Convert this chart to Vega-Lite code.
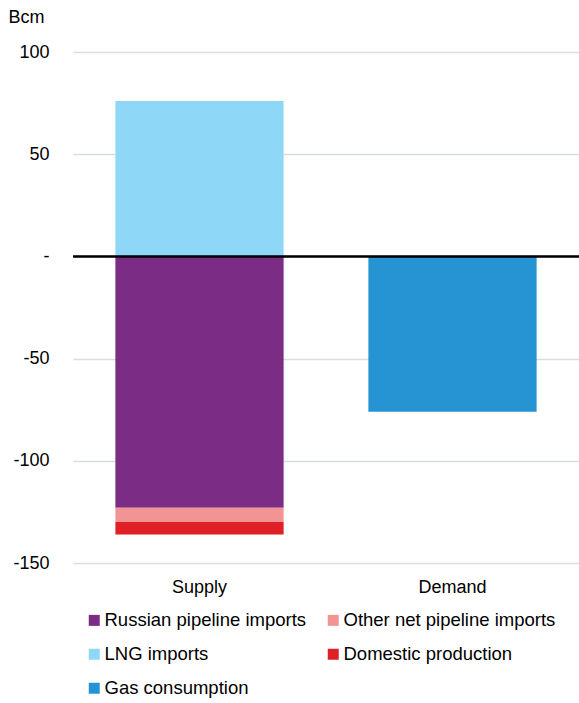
{
  "$schema": "https://vega.github.io/schema/vega-lite/v6.json",
  "autosize": {"type": "none"},
  "width": 506,
  "height": 511,
  "padding": {"left": 73, "top": 52, "right": 0, "bottom": 140},
  "background": "white",
  "config": {
    "view": {"stroke": null},
    "font": "Liberation Sans",
    "axis": {"labelFont": "Liberation Sans", "titleFont": "Liberation Sans"},
    "legend": {"labelFont": "Liberation Sans"}
  },
  "data": {
    "values": [
      {"side": "Supply", "category": "LNG imports", "value": 76, "ord": 1},
      {"side": "Supply", "category": "Russian pipeline imports", "value": -123, "ord": 2},
      {"side": "Supply", "category": "Other net pipeline imports", "value": -7, "ord": 3},
      {"side": "Supply", "category": "Domestic production", "value": -6, "ord": 4},
      {"side": "Demand", "category": "Gas consumption", "value": -76, "ord": 5}
    ]
  },
  "layer": [
    {
      "mark": {"type": "bar"},
      "encoding": {
        "x": {
          "field": "side",
          "type": "nominal",
          "sort": ["Supply", "Demand"],
          "scale": {"paddingInner": 0.335, "paddingOuter": 0.1675},
          "axis": {
            "title": null,
            "labelAngle": 0,
            "labelFontSize": 18,
            "labelColor": "#000000",
            "labelPadding": 15,
            "ticks": false,
            "domain": false
          }
        },
        "y": {
          "field": "value",
          "type": "quantitative",
          "stack": "zero",
          "scale": {"domain": [-150, 100], "nice": false},
          "axis": {
            "values": [-150, -100, -50, 0, 50, 100],
            "labelExpr": "datum.value == 0 ? '-' : toString(datum.value)",
            "labelFontSize": 18,
            "labelColor": "#000000",
            "labelPadding": 24,
            "ticks": false,
            "domain": false,
            "gridColor": "#d9dde2",
            "gridWidth": 1.5,
            "title": "Bcm",
            "titleAngle": 0,
            "titleAlign": "left",
            "titleBaseline": "alphabetic",
            "titleX": -65,
            "titleY": -30,
            "titleFontSize": 18,
            "titleFontWeight": "normal",
            "titleColor": "#000000"
          }
        },
        "color": {
          "field": "category",
          "type": "nominal",
          "scale": {
            "domain": ["Russian pipeline imports", "Other net pipeline imports", "LNG imports", "Domestic production", "Gas consumption"],
            "range": ["#7b2d86", "#f39494", "#8fd7f6", "#e01f26", "#2694d3"]
          },
          "legend": {
            "title": null,
            "orient": "none",
            "legendX": 12,
            "legendY": 559,
            "columns": 2,
            "direction": "horizontal",
            "symbolType": "square",
            "symbolSize": 121,
            "symbolStrokeWidth": 0,
            "labelFontSize": 18.5,
            "labelColor": "#000000",
            "labelOffset": 1,
            "rowPadding": 15,
            "columnPadding": 17,
            "padding": 0,
            "labelLimit": 400
          }
        },
        "order": {"field": "ord", "type": "quantitative"}
      }
    },
    {
      "mark": {"type": "rule", "color": "#000000", "strokeWidth": 1.5},
      "encoding": {"y": {"datum": 0}}
    }
  ]
}
